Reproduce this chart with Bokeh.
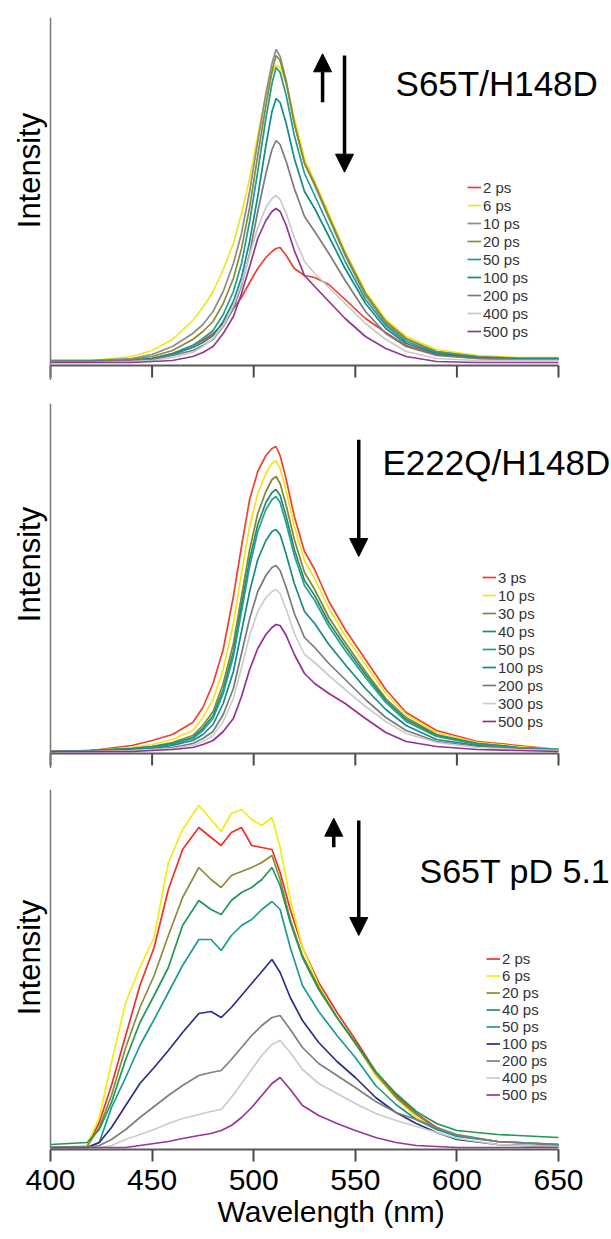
import numpy as np
from bokeh.plotting import figure
from bokeh.models import (Range1d, FixedTicker, Legend, LegendItem, Label,
                          Arrow, NormalHead, Span, Title)
from bokeh.layouts import column
from bokeh.embed import file_html
from bokeh.resources import INLINE

FONT = "Liberation Sans"

# ---------------- data (intensity, arbitrary units) ----------------
x_ticks = [400, 450, 500, 550, 600, 650]
x_tick_labels = ["400", "450", "500", "550", "600", "650"]

# Panel 1: S65T/H148D
w1 = [400, 420, 440, 450, 460, 470, 475, 480, 485, 490, 494, 498, 502, 506, 509,
      511, 513, 516, 520, 525, 530, 537, 545, 555, 565, 575, 590, 610, 630, 650]
labels1 = ["2 ps", "6 ps", "10 ps", "20 ps", "50 ps", "100 ps", "200 ps", "400 ps", "500 ps"]
colors1 = ["#EE4130", "#F2E51C", "#8C8C8C", "#8B8B34", "#1E9C98", "#138B8B",
           "#7B7B7B", "#C9C9C9", "#8E3A96"]
p1_2ps   = [2, 2, 3, 5, 10, 18, 23, 30, 40, 55, 66, 81, 95, 106, 112, 115, 116, 108, 95, 88,
            86, 79, 64, 45, 31, 18, 9, 5, 4, 4]
p1_6ps   = [3, 3, 7, 13, 24, 43, 56, 72, 94, 120, 150, 185, 228, 268, 290, 298, 296, 280, 245, 205,
            182, 150, 112, 72, 44, 27, 14, 8, 6, 6]
p1_10ps  = [3, 3, 5, 9, 17, 30, 39, 52, 72, 100, 130, 172, 222, 270, 300, 314, 307, 283, 240, 200,
            178, 145, 108, 68, 40, 24, 12, 7, 5, 5]
p1_20ps  = [3, 3, 4, 7, 13, 24, 32, 42, 60, 85, 115, 156, 208, 258, 292, 308, 303, 280, 240, 200,
            180, 147, 110, 70, 42, 25, 12, 7, 5, 5]
p1_50ps  = [2, 2, 3, 5, 10, 18, 25, 33, 49, 72, 100, 142, 192, 245, 280, 296, 291, 268, 228, 190,
            168, 137, 102, 64, 38, 22, 11, 6, 5, 5]
p1_100ps = [2, 2, 3, 5, 9, 16, 21, 28, 42, 62, 86, 122, 167, 218, 252, 265, 261, 240, 205, 172,
            155, 127, 95, 60, 35, 20, 10, 6, 5, 5]
p1_200ps = [2, 2, 3, 4, 8, 13, 18, 24, 37, 55, 78, 110, 152, 190, 214, 223, 219, 202, 175, 147,
            132, 110, 83, 52, 30, 17, 8, 5, 4, 4]
p1_400ps = [1, 1, 2, 3, 6, 11, 17, 25, 38, 58, 80, 108, 136, 156, 165, 168, 164, 150, 126, 102,
            90, 76, 60, 40, 24, 12, 5, 3, 3, 3]
p1_500ps = [1, 1, 1, 2, 3, 7, 11, 17, 30, 47, 70, 97, 125, 143, 152, 155, 152, 138, 113, 88,
            77, 62, 45, 27, 15, 7, 2, 1, 1, 1]
series1 = [p1_2ps, p1_6ps, p1_10ps, p1_20ps, p1_50ps, p1_100ps, p1_200ps, p1_400ps, p1_500ps]

# Panel 2: E222Q/H148D
w2 = w1
labels2 = ["3 ps", "10 ps", "30 ps", "40 ps", "50 ps", "100 ps", "200 ps", "300 ps", "500 ps"]
colors2 = ["#EE4130", "#F2E51C", "#84843C", "#1E9060", "#2A9C9A", "#148A8A",
           "#7A7A7A", "#CDCDCD", "#952F9B"]
p2_3ps   = [0, 1, 6, 11, 17, 29, 44, 68, 102, 155, 205, 252, 280, 296, 303, 305, 296, 272, 235, 200,
            182, 150, 122, 92, 62, 39, 21, 10, 6, 2]
p2_10ps  = [0, 1, 4, 7, 12, 21, 34, 52, 82, 128, 178, 225, 258, 278, 288, 291, 283, 260, 225, 191,
            173, 143, 116, 87, 58, 37, 19, 9, 5, 2]
p2_30ps  = [0, 1, 3, 5, 9, 16, 26, 40, 68, 108, 155, 202, 238, 260, 272, 275, 268, 246, 212, 179,
            162, 134, 109, 80, 53, 34, 17, 8, 4, 2]
p2_40ps  = [0, 1, 3, 5, 8, 14, 23, 36, 62, 100, 146, 192, 227, 249, 259, 262, 256, 235, 202, 171,
            156, 129, 105, 77, 51, 32, 16, 8, 4, 2]
p2_50ps  = [0, 1, 2, 4, 7, 13, 21, 33, 58, 95, 140, 185, 220, 242, 252, 255, 249, 228, 196, 166,
            151, 125, 101, 74, 49, 30, 15, 7, 4, 2]
p2_100ps = [0, 1, 2, 3, 6, 11, 17, 27, 48, 80, 120, 160, 192, 211, 220, 222, 217, 197, 168, 140,
            128, 107, 87, 63, 42, 26, 12, 6, 3, 1]
p2_200ps = [0, 0, 1, 2, 4, 8, 13, 20, 37, 63, 98, 133, 160, 176, 184, 186, 181, 164, 138, 114,
            104, 88, 72, 52, 34, 21, 10, 5, 3, 1]
p2_300ps = [0, 0, 1, 2, 3, 6, 10, 16, 30, 53, 84, 116, 140, 154, 160, 162, 158, 142, 118, 97,
            89, 76, 62, 45, 30, 18, 9, 4, 2, 1]
p2_500ps = [0, 0, 0, 1, 2, 4, 7, 11, 20, 33, 55, 82, 103, 117, 124, 127, 126, 116, 97, 78,
            68, 58, 48, 33, 19, 10, 5, 2, 1, 0]
series2 = [p2_3ps, p2_10ps, p2_30ps, p2_40ps, p2_50ps, p2_100ps, p2_200ps, p2_300ps, p2_500ps]

# Panel 3: S65T pD 5.1
w3 = [400, 418, 424, 430, 437, 444, 451, 458, 465, 473, 479, 484, 489, 494, 499,
      504, 509, 513, 518, 524, 532, 541, 550, 560, 570, 580, 590, 600, 620, 650]
labels3 = ["2 ps", "6 ps", "20 ps", "40 ps", "50 ps", "100 ps", "200 ps", "400 ps", "500 ps"]
colors3 = ["#F0302A", "#F5EB0F", "#8C8C3A", "#1D9955", "#1C9B96", "#2B2F8C",
           "#7F7F7F", "#C8CCCE", "#9B3398"]
p3_2ps   = [0, 1, 25, 62, 112, 162, 200, 258, 298, 320, 310, 302, 315, 320, 302, 300, 298, 275, 238, 200, 165, 135, 108, 76, 52, 34, 20, 12, 6, 3]
p3_6ps   = [0, 2, 30, 85, 145, 180, 210, 285, 318, 342, 328, 316, 334, 338, 328, 322, 330, 300, 248, 200, 162, 130, 105, 72, 50, 30, 18, 13, 6, 3]
p3_20ps  = [0, 1, 20, 52, 100, 140, 172, 212, 250, 280, 268, 260, 272, 276, 280, 285, 292, 268, 228, 192, 160, 130, 104, 74, 50, 33, 19, 12, 6, 3]
p3_40ps  = [3, 5, 18, 45, 88, 125, 152, 180, 222, 247, 238, 233, 247, 255, 260, 268, 280, 262, 225, 190, 158, 130, 105, 76, 54, 36, 24, 17, 13, 10]
p3_50ps  = [0, 0, 5, 40, 70, 102, 128, 155, 182, 208, 208, 197, 212, 222, 228, 238, 246, 238, 200, 162, 136, 112, 90, 62, 43, 28, 18, 11, 6, 3]
p3_100ps = [0, 0, 5, 20, 42, 64, 80, 97, 115, 134, 136, 130, 140, 152, 164, 176, 188, 175, 150, 127, 105, 86, 70, 50, 35, 24, 15, 8, 3, 1]
p3_200ps = [0, 0, 2, 8, 18, 30, 41, 52, 62, 72, 75, 77, 88, 100, 112, 122, 130, 132, 118, 100, 84, 72, 60, 46, 35, 28, 20, 13, 6, 2]
p3_400ps = [0, 0, 0, 2, 8, 13, 18, 24, 29, 33, 36, 38, 50, 64, 78, 92, 103, 107, 95, 78, 64, 54, 44, 34, 27, 21, 15, 9, 3, 1]
p3_500ps = [0, 0, 0, 0, 0, 2, 4, 6, 9, 12, 14, 17, 22, 30, 40, 52, 64, 70, 58, 42, 32, 24, 17, 10, 5, 2, 1, 0, 0, 0]
series3 = [p3_2ps, p3_6ps, p3_20ps, p3_40ps, p3_50ps, p3_100ps, p3_200ps, p3_400ps, p3_500ps]

titles = ["S65T/H148D", "E222Q/H148D", "S65T pD 5.1"]
x_title = "Wavelength (nm)"

# ---------------- layout ----------------
WIDTH = 611
PX_PER_NM = 2.032
X0_PX = 50                      # pixel column of 400 nm
X_RANGE = (400 - X0_PX / PX_PER_NM, 400 + (WIDTH - X0_PX) / PX_PER_NM)
AXIS_COLOR = "#5a5a5a"


def base_figure(height, b_top, b_bottom, y_start, y_end, with_xaxis):
    p = figure(width=WIDTH, height=height,
               x_range=Range1d(*X_RANGE), y_range=Range1d(y_start, y_end),
               output_backend="svg", toolbar_location=None,
               x_axis_location="below" if with_xaxis else None,
               y_axis_location=None,
               min_border_left=0, min_border_right=0,
               min_border_top=b_top, min_border_bottom=b_bottom)
    p.outline_line_color = None
    p.grid.visible = False
    p.background_fill_color = "white"
    return p


def make_panel(p, w, series, labels, colors, title, title_pos, title_size,
               arrows, legend_loc, legend_item_h, ylab_y, manual_axis):
    # y axis line
    p.add_layout(Span(location=x_ticks[0], dimension="height",
                      line_color="#777777", line_width=1.5))
    if manual_axis:
        n = len(x_ticks)
        p.segment(x0=[x_ticks[0]], y0=[-2], x1=[x_ticks[-1]], y1=[-2],
                  line_color=AXIS_COLOR, line_width=2)
        p.segment(x0=x_ticks, y0=[-2] * n, x1=x_ticks, y1=[-14] * n,
                  line_color="#4a4a4a", line_width=2)

    items = []
    for vals, lab, col in zip(series, labels, colors):
        r = p.line(w, vals, line_color=col, line_width=1.7)
        items.append(LegendItem(label=lab, renderers=[r]))

    leg = Legend(items=items, location=legend_loc, orientation="vertical",
                 glyph_width=14, glyph_height=legend_item_h,
                 label_height=legend_item_h, spacing=0, padding=0, margin=0,
                 label_standoff=2, border_line_color=None,
                 background_fill_alpha=0,
                 label_text_font=FONT, label_text_font_size="15px",
                 label_text_color="#333333")
    p.add_layout(leg)

    p.add_layout(Label(x=title_pos[0], y=title_pos[1], text=title,
                       text_font=FONT, text_font_size=title_size,
                       text_align="left", text_baseline="middle",
                       text_color="black"))

    p.add_layout(Label(x=389.7, y=ylab_y, text="Intensity", angle=np.pi / 2,
                       text_font=FONT, text_font_size="31px",
                       text_align="center", text_baseline="middle",
                       text_color="black"))

    for (xs, ys, xe, ye) in arrows:
        p.add_layout(Arrow(end=NormalHead(size=18, fill_color="black",
                                          line_color="black"),
                           x_start=xs, y_start=ys, x_end=xe, y_end=ye,
                           line_color="black", line_width=3.5))
    return p


# panel 1: page rows 0..380, frame top 17, zero line at row 363
p1 = base_figure(380, 17, 0, -17, 346, False)
make_panel(p1, w1, series1, labels1, colors1, titles[0], (569.8, 280), "35px",
           [(533.9, 261.3, 533.9, 309.7), (544.7, 308, 544.7, 191.3)],
           (467, 40), 18, 193, True)

# panel 2: page rows 380..768, frame top 403, zero line at row 751
p2 = base_figure(388, 23, 0, -17, 348, False)
make_panel(p2, w2, series2, labels2, colors2, titles[1], (563.4, 289), "35px",
           [(551.7, 311.7, 551.7, 195)],
           (482, 38), 18, 187, True)

# panel 3: page rows 768..1238, frame 789..1149, zero line at row 1147
p3 = base_figure(470, 21, 89, -2, 358, True)
make_panel(p3, w3, series3, labels3, colors3, titles[2], (581.6, 277), "34px",
           [(539.4, 300.3, 539.4, 329.3), (551.7, 327, 551.7, 212)],
           (486, 46), 17, 190, False)
xa = p3.xaxis[0]
xa.ticker = FixedTicker(ticks=x_ticks)
xa.major_label_overrides = dict(zip(x_ticks, x_tick_labels))
xa.bounds = (x_ticks[0], x_ticks[-1])
xa.axis_line_color = AXIS_COLOR
xa.axis_line_width = 2
xa.major_tick_line_color = "#4a4a4a"
xa.major_tick_line_width = 2
xa.major_tick_out = 12
xa.major_tick_in = 0
xa.minor_tick_line_color = None
xa.major_label_text_font = FONT
xa.major_label_text_font_size = "30px"
xa.major_label_text_color = "black"
xa.major_label_standoff = 8

# x-axis title, placed as a bottom title so it can sit right of centre
p3.add_layout(Title(text=x_title, align="left", offset=217, standoff=0,
                    text_font=FONT, text_font_size="30px",
                    text_font_style="normal", text_color="black"), "below")

layout = column(p1, p2, p3, spacing=0)
open("out.html", "w").write(file_html(layout, INLINE))
